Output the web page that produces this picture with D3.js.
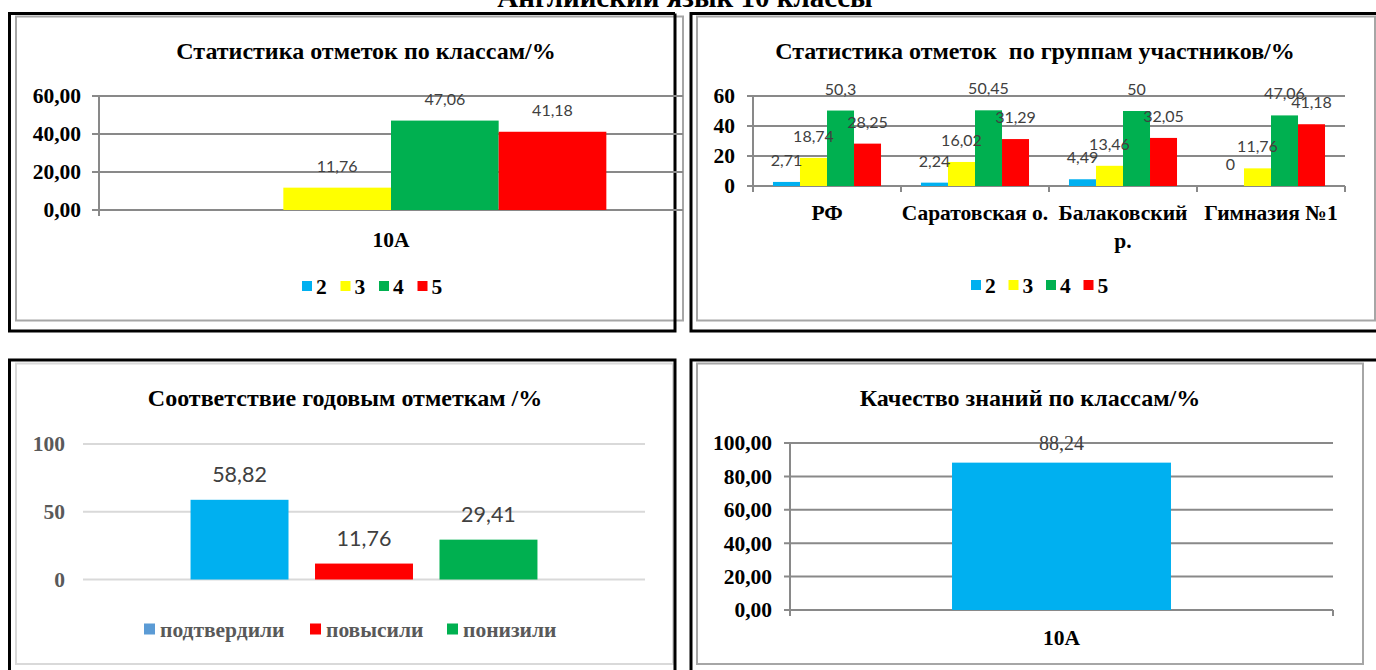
<!DOCTYPE html>
<html>
<head>
<meta charset="utf-8">
<script src="https://cdn.jsdelivr.net/npm/d3@7"></script>
<style>
  html, body { margin: 0; padding: 0; background: #fff; }
  svg { display: block; }
</style>
</head>
<body>
<svg id="page" width="1376" height="670"></svg>
<script>
// ---- data ----
const pageTitle = "Английский язык 10 классы";

const gradeSeries = ["2", "3", "4", "5"];
const gradeColors = ["#00b0f0", "#ffff00", "#00b050", "#ff0000"];

// Chart 1: marks by class
const classTitle = "Статистика отметок по классам/%";
const classCategories = ["10А"];
const classGrade2 = [null];
const classGrade3 = [11.76];
const classGrade4 = [47.06];
const classGrade5 = [41.18];
const classTicks = [0, 20, 40, 60];

// Chart 2: marks by participant group
const groupTitle = "Статистика отметок  по группам участников/%";
const groupCategories = ["РФ", "Саратовская о.", "Балаковский р.", "Гимназия №1"];
const groupGrade2 = [2.71, 2.24, 4.49, 0];
const groupGrade3 = [18.74, 16.02, 13.46, 11.76];
const groupGrade4 = [50.3, 50.45, 50, 47.06];
const groupGrade5 = [28.25, 31.29, 32.05, 41.18];
const groupTicks = [0, 20, 40, 60];

// Chart 3: agreement with annual marks
const matchTitle = "Соответствие годовым отметкам /%";
const matchSeries = ["подтвердили", "повысили", "понизили"];
const matchValues = [58.82, 11.76, 29.41];
const matchBarColors = ["#00b0f0", "#ff0000", "#00b050"];
const matchKeyColors = ["#5b9bd5", "#ff0000", "#00b050"];
const matchTicks = [0, 50, 100];

// Chart 4: knowledge quality
const qualityTitle = "Качество знаний по классам/%";
const qualityCategories = ["10А"];
const qualityValues = [88.24];
const qualityTicks = [0, 20, 40, 60, 80, 100];

// ---- helpers ----
const SERIF = "'Liberation Serif', 'Times New Roman', serif";
const SANS = "Lato, 'Open Sans', sans-serif";
const AXIS_FS = 21.5;
const locale = d3.formatLocale({ decimal: ",", thousands: " ", grouping: [3], currency: ["", ""] });
const fmt2 = locale.format(".2f");
const fmtLabel = v => String(v).replace(".", ",");
const svg = d3.select("#page");

// page heading (partly above the visible area)
svg.append("text")
  .attr("x", 685).attr("y", 7)
  .attr("text-anchor", "middle")
  .attr("font-family", SERIF).attr("font-weight", "bold").attr("font-size", 29)
  .text(pageTitle);

function frame(g, outer, inner, innerColor) {
  g.append("rect").attr("x", inner.x).attr("y", inner.y)
    .attr("width", inner.w).attr("height", inner.h)
    .attr("fill", "none").attr("stroke", innerColor).attr("stroke-width", 2);
  g.append("path").attr("d", outer).attr("fill", "none")
    .attr("stroke", "#000").attr("stroke-width", 3);
}

function title(g, text, x, y) {
  g.append("text").attr("x", x).attr("y", y)
    .attr("text-anchor", "middle").attr("dominant-baseline", "central")
    .style("white-space", "pre")
    .attr("font-family", SERIF).attr("font-weight", "bold").attr("font-size", 24)
    .attr("fill", "#000").text(text);
}

function yLabels(g, y, ticks, format, axisX, color) {
  const ax = d3.axisLeft(y).tickValues(ticks).tickFormat(format).tickSize(0).tickPadding(18);
  const a = g.append("g").attr("transform", `translate(${axisX},0)`).call(ax);
  a.select(".domain").remove();
  a.selectAll("text")
    .attr("font-family", SERIF).attr("font-weight", "bold").attr("font-size", AXIS_FS)
    .attr("fill", color);
}

function grid(g, y, ticks, x1, x2, color) {
  g.selectAll(null).data(ticks).join("line")
    .attr("x1", x1).attr("x2", x2)
    .attr("y1", d => y(d)).attr("y2", d => y(d))
    .attr("stroke", color).attr("stroke-width", 2);
}

function legend(g, names, colors, x0, step, yc, sq, textColor, gap) {
  const items = g.selectAll(null).data(names).join("g")
    .attr("transform", (d, i) => `translate(${typeof step === "number" ? x0 + i * step : step[i]},${yc})`);
  items.append("rect").attr("x", 0).attr("y", -sq / 2 - 1).attr("width", sq).attr("height", sq)
    .attr("fill", (d, i) => colors[i]);
  items.append("text").attr("x", sq + gap).attr("y", 0).attr("dominant-baseline", "central")
    .attr("font-family", SERIF).attr("font-weight", "bold").attr("font-size", AXIS_FS)
    .attr("fill", textColor).text(d => d);
}

// ---- Chart 1 ----
{
  const g = svg.append("g");
  frame(g, "M675,13.5 H9.5 V331 H675 V13.5", { x: 16, y: 16.5, w: 667, h: 304 }, "#a6a6a6");
  title(g, classTitle, 366, 51);
  const y = d3.scaleLinear().domain([0, 60]).range([210, 96]);
  const x0 = d3.scaleBand().domain(classCategories).range([99, 683]).paddingInner(0).paddingOuter(0.178);
  const x1 = d3.scaleBand().domain(gradeSeries).range([0, x0.bandwidth()]);
  grid(g, y, classTicks, 92, 683, "#898989");
  g.append("line").attr("x1", 99).attr("x2", 99).attr("y1", y(60)).attr("y2", 216)
    .attr("stroke", "#898989").attr("stroke-width", 2);
  yLabels(g, y, classTicks, fmt2, 99, "#000");
  const series = [classGrade2, classGrade3, classGrade4, classGrade5];
  const rows = [];
  classCategories.forEach((c, ci) => gradeSeries.forEach((s, si) => {
    rows.push({ c, s, si, v: series[si][ci] });
  }));
  const valid = rows.filter(r => r.v !== null);
  g.selectAll(null).data(valid).join("rect")
    .attr("x", d => x0(d.c) + x1(d.s)).attr("width", x1.bandwidth())
    .attr("y", d => y(d.v)).attr("height", d => y(0) - y(d.v))
    .attr("fill", d => gradeColors[d.si]);
  g.selectAll(null).data(valid).join("text")
    .attr("x", d => x0(d.c) + x1(d.s) + x1.bandwidth() / 2)
    .attr("y", d => y(d.v) - 16)
    .attr("text-anchor", "middle")
    .attr("font-family", SANS).attr("font-size", 16).attr("fill", "#404040")
    .text(d => fmtLabel(d.v));
  g.selectAll(null).data(classCategories).join("text")
    .attr("x", d => x0(d) + x0.bandwidth() / 2).attr("y", 240)
    .attr("text-anchor", "middle").attr("dominant-baseline", "central")
    .attr("font-family", SERIF).attr("font-weight", "bold").attr("font-size", AXIS_FS)
    .text(d => d);
  legend(g, gradeSeries, gradeColors, 302, 38.5, 287, 10, "#000", 4);
}

// ---- Chart 2 ----
{
  const g = svg.append("g");
  frame(g, "M1376,13.5 H691 V331 H1376", { x: 697, y: 16.5, w: 678, h: 304 }, "#a6a6a6");
  title(g, groupTitle, 1035, 51);
  const y = d3.scaleLinear().domain([0, 60]).range([186, 96]);
  const x0 = d3.scaleBand().domain(groupCategories).range([753, 1345]).paddingInner(0.27).paddingOuter(0.135);
  const x1 = d3.scaleBand().domain(gradeSeries).range([0, x0.bandwidth()]);
  grid(g, y, groupTicks, 747, 1345, "#898989");
  g.append("line").attr("x1", 753).attr("x2", 753).attr("y1", y(60)).attr("y2", 186)
    .attr("stroke", "#898989").attr("stroke-width", 2);
  const bounds = [x0.range()[0]].concat(groupCategories.map(c => x0(c) + x0.bandwidth() + x0.step() * x0.paddingInner() / 2));
  bounds[bounds.length - 1] = x0.range()[1];
  g.selectAll(null).data(bounds).join("line")
    .attr("x1", d => d).attr("x2", d => d).attr("y1", 186).attr("y2", 192)
    .attr("stroke", "#898989").attr("stroke-width", 2);
  yLabels(g, y, groupTicks, d => String(d), 753, "#000");
  const series = [groupGrade2, groupGrade3, groupGrade4, groupGrade5];
  const rows = [];
  groupCategories.forEach((c, ci) => gradeSeries.forEach((s, si) => {
    rows.push({ c, s, si, v: series[si][ci] });
  }));
  g.selectAll(null).data(rows).join("rect")
    .attr("x", d => x0(d.c) + x1(d.s)).attr("width", x1.bandwidth())
    .attr("y", d => y(d.v)).attr("height", d => y(0) - y(d.v))
    .attr("fill", d => gradeColors[d.si]);
  g.selectAll(null).data(rows).join("text")
    .attr("x", d => x0(d.c) + x1(d.s) + x1.bandwidth() / 2)
    .attr("y", d => y(d.v) - 16)
    .attr("text-anchor", "middle")
    .attr("font-family", SANS).attr("font-size", 16).attr("fill", "#404040")
    .text(d => fmtLabel(d.v));
  // category names, wrapped on the space for the long one
  const catLines = {
    "РФ": ["РФ"], "Саратовская о.": ["Саратовская о."],
    "Балаковский р.": ["Балаковский", "р."], "Гимназия №1": ["Гимназия №1"]
  };
  const cats = g.selectAll(null).data(groupCategories).join("text")
    .attr("text-anchor", "middle")
    .attr("font-family", SERIF).attr("font-weight", "bold").attr("font-size", AXIS_FS);
  cats.each(function (d) {
    const t = d3.select(this);
    catLines[d].forEach((line, i) => {
      t.append("tspan").attr("x", x0(d) + x0.bandwidth() / 2).attr("y", 220 + i * 28).text(line);
    });
  });
  legend(g, gradeSeries, gradeColors, 971, 37.5, 286, 10, "#000", 4);
}

// ---- Chart 3 ----
{
  const g = svg.append("g");
  frame(g, "M9.5,670 V360 H675 V670", { x: 16, y: 363.5, w: 657, h: 300.5 }, "#d9d9d9");
  title(g, matchTitle, 345, 398);
  const y = d3.scaleLinear().domain([0, 100]).range([579.5, 444]);
  const x0 = d3.scaleBand().domain([""]).range([83, 645]).paddingOuter(0.31);
  const x1 = d3.scaleBand().domain(matchSeries).range([0, x0.bandwidth()]).paddingInner(0.213);
  grid(g, y, matchTicks, 83, 645, "#d9d9d9");
  yLabels(g, y, matchTicks, d => String(d), 83, "#595959");
  g.selectAll(null).data(matchSeries).join("rect")
    .attr("x", d => x0("") + x1(d)).attr("width", x1.bandwidth())
    .attr("y", (d, i) => y(matchValues[i])).attr("height", (d, i) => y(0) - y(matchValues[i]))
    .attr("fill", (d, i) => matchBarColors[i]);
  g.selectAll(null).data(matchSeries).join("text")
    .attr("x", d => x0("") + x1(d) + x1.bandwidth() / 2)
    .attr("y", (d, i) => y(matchValues[i]) - 18)
    .attr("text-anchor", "middle")
    .attr("font-family", SANS).attr("font-size", 21.5).attr("fill", "#404040")
    .text((d, i) => fmtLabel(matchValues[i]));
  legend(g, matchSeries, matchKeyColors, 0, [144, 310, 447], 630, 11, "#595959", 5);
}

// ---- Chart 4 ----
{
  const g = svg.append("g");
  frame(g, "M691,670 V360 H1376", { x: 697, y: 363.5, w: 666, h: 300.5 }, "#a6a6a6");
  title(g, qualityTitle, 1030, 398);
  const y = d3.scaleLinear().domain([0, 100]).range([610, 443]);
  const x = d3.scaleBand().domain(qualityCategories).range([790, 1333]).paddingOuter(0.74);
  grid(g, y, qualityTicks, 784, 1333, "#898989");
  g.append("line").attr("x1", 790).attr("x2", 790).attr("y1", y(100)).attr("y2", 616)
    .attr("stroke", "#898989").attr("stroke-width", 2);
  g.append("line").attr("x1", 1333).attr("x2", 1333).attr("y1", 610).attr("y2", 616)
    .attr("stroke", "#898989").attr("stroke-width", 2);
  yLabels(g, y, qualityTicks, fmt2, 790, "#000");
  g.selectAll(null).data(qualityCategories).join("rect")
    .attr("x", d => x(d)).attr("width", x.bandwidth())
    .attr("y", (d, i) => y(qualityValues[i])).attr("height", (d, i) => y(0) - y(qualityValues[i]))
    .attr("fill", "#00b0f0");
  g.selectAll(null).data(qualityCategories).join("text")
    .attr("x", d => x(d) + x.bandwidth() / 2)
    .attr("y", (d, i) => y(qualityValues[i]) - 13)
    .attr("text-anchor", "middle")
    .attr("font-family", SERIF).attr("font-size", 20).attr("fill", "#404040")
    .text((d, i) => fmtLabel(qualityValues[i]));
  g.selectAll(null).data(qualityCategories).join("text")
    .attr("x", d => x(d) + x.bandwidth() / 2).attr("y", 638)
    .attr("text-anchor", "middle").attr("dominant-baseline", "central")
    .attr("font-family", SERIF).attr("font-weight", "bold").attr("font-size", AXIS_FS)
    .text(d => d);
}
</script>
</body>
</html>
